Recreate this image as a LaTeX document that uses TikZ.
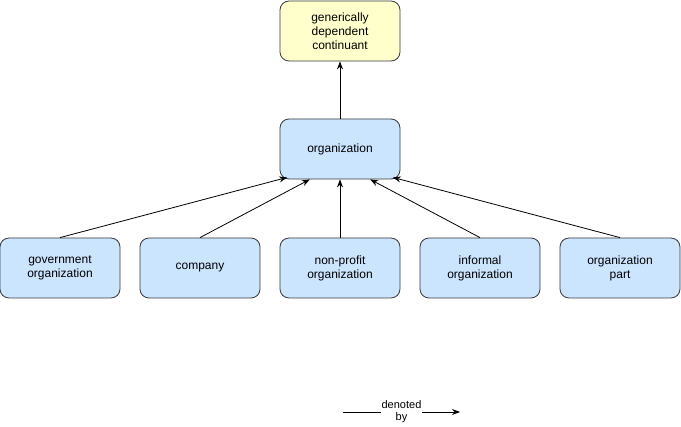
\documentclass[tikz,border=0pt]{standalone}
\usepackage{fontspec}
\setmainfont{Liberation Sans}
\usetikzlibrary{arrows.meta,calc}
\definecolor{boxblue}{HTML}{CCE5FF}
\definecolor{boxyellow}{HTML}{FFFFCC}
\definecolor{boxline}{HTML}{36393D}
\tikzset{
  classbox/.style={draw=boxline, fill=boxblue, rounded corners=9pt, line width=0.8pt,
    minimum width=120pt, minimum height=60pt, text width=110pt, align=center,
    inner sep=0pt, font=\fontsize{12}{14}\selectfont},
  topbox/.style={classbox, fill=boxyellow},
  isa/.style={-{Stealth[length=8pt,width=6pt]}, line width=0.8pt}
}
\begin{document}
\begin{tikzpicture}[x=1pt,y=-1pt]
\useasboundingbox (0,0) rectangle (681,427);

\node[topbox] (gdc) at (340,31) {generically\\dependent\\continuant};
\node[classbox] (org) at (340,149) {organization};

\node[classbox] (gov) at (60,268) {government\\organization};
\node[classbox] (comp) at (200,268) {company};
\node[classbox] (nonprofit) at (340,268) {non-profit\\organization};
\node[classbox] (informal) at (480,268) {informal\\organization};
\node[classbox] (part) at (620,268) {organization\\part};

\draw[isa] (org) -- (gdc);
\draw[isa] (gov.north) -- ($(org.south west)!0.0625!(org.south east)+(0,-2)$);
\draw[isa] (comp.north) -- ($(org.south west)!0.25!(org.south east)$);
\draw[isa] (nonprofit.north) -- (org.south);
\draw[isa] (informal.north) -- ($(org.south west)!0.75!(org.south east)$);
\draw[isa] (part.north) -- ($(org.south west)!0.9375!(org.south east)+(0,-2)$);

% legend
\coordinate (legstart) at (343,412);
\coordinate (legend) at (460,412);
\draw[isa] (legstart) -- (legend) node[midway, fill=white, inner sep=1pt, align=center,
  font=\fontsize{11}{12}\selectfont] (denoted) {denoted\\by};
\end{tikzpicture}
\end{document}
